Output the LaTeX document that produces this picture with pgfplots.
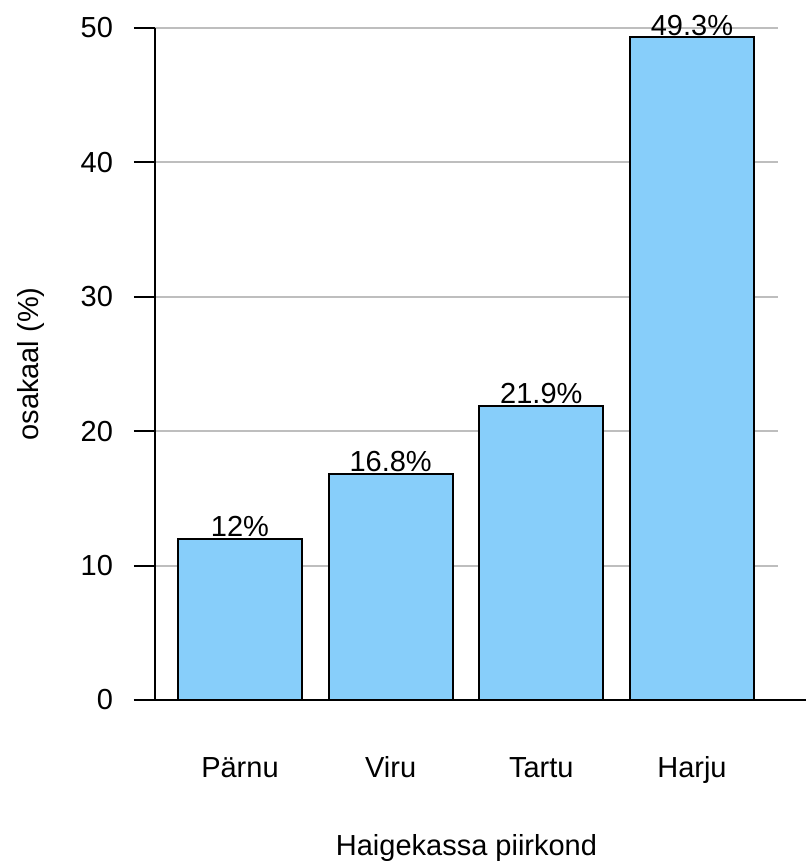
\documentclass[border=0pt]{standalone}
\usepackage{pgfplots}
\pgfplotsset{compat=1.18}
\usepackage{fontspec}
\setmainfont{Liberation Sans}
\definecolor{barblue}{HTML}{87CEFA}
\definecolor{gridgray}{HTML}{BEBEBE}
\begin{document}
\begin{tikzpicture}
\begin{axis}[
  scale only axis,
  width=311.5pt, height=336pt,
  ymin=0, ymax=50,
  xmin=-0.564, xmax=3.571,
  ytick={0,10,20,30,40,50},
  xtick={0,1,2,3},
  xticklabels={Pärnu,Viru,Tartu,Harju},
  axis x line=bottom, axis y line=left,
  x axis line style={draw=none,-},
  y axis line style={-,line width=1pt},
  ymajorgrids,
  major grid style={gridgray,line width=1pt},
  ytick style={line width=1pt,black},
  tick align=outside,
  major tick length=10.5pt,
  xtick style={draw=none},
  /pgf/number format/assume math mode=true,
  tick label style={font=\fontsize{14.5}{17}\selectfont},
  yticklabel style={xshift=-7pt},
  xticklabel style={anchor=base,yshift=-28pt},
  label style={font=\fontsize{14.5}{17}\selectfont},
  xlabel={Haigekassa piirkond},
  ylabel={osakaal (\%)},
  xlabel style={at={(axis description cs:0.5,0)},anchor=center,yshift=-74pt},
  ylabel style={at={([xshift=-62pt]axis description cs:0,0.5)},anchor=center},
  ybar, bar width=0.823,
  clip=false,
  nodes near coords={\pgfmathprintnumber{\pgfplotspointmeta}\%},
  nodes near coords style={font=\fontsize{14.5}{17}\selectfont,anchor=south,inner sep=0pt,yshift=0.5pt},
]
\addplot[fill=barblue,draw=black,line width=1pt] coordinates {(0,12) (1,16.8) (2,21.9) (3,49.3)};
\draw[line width=1pt,black] ([xshift=-10.5pt]rel axis cs:0,0) -- ([xshift=14pt]rel axis cs:1,0);
\coordinate (bl) at ([xshift=-77.5pt,yshift=-80.5pt]rel axis cs:0,0);
\coordinate (tr) at ([xshift=14pt,yshift=14pt]rel axis cs:1,1);
\end{axis}
\pgfresetboundingbox
\path (bl) rectangle (tr);
\end{tikzpicture}
\end{document}
